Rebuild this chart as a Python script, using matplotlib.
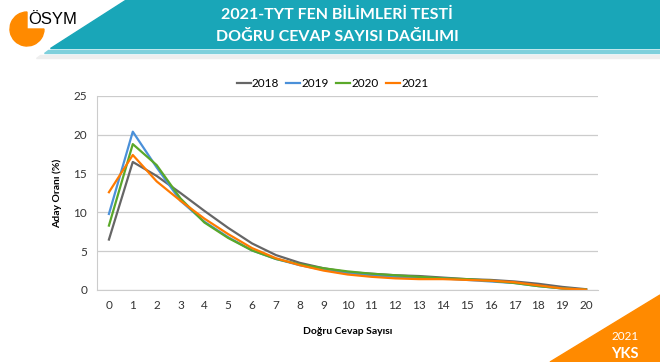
import numpy as np
import matplotlib
matplotlib.use("Agg")
import matplotlib.pyplot as plt
from matplotlib.patches import Polygon, Wedge

plt.rcParams['font.family'] = ['Lato', 'DejaVu Sans']

# data
correct = list(range(21))
y2018 = [6.5, 16.5, 14.7, 12.5, 10.2, 8.0, 6.0, 4.5, 3.5, 2.8, 2.3, 2.1, 1.9, 1.8, 1.6, 1.4, 1.3, 1.1, 0.8, 0.4, 0.1]
y2019 = [9.8, 20.4, 15.8, 11.5, 8.8, 6.8, 5.1, 4.0, 3.2, 2.6, 2.2, 1.9, 1.7, 1.6, 1.5, 1.3, 1.1, 0.9, 0.5, 0.2, 0.05]
y2020 = [8.3, 18.8, 16.1, 11.8, 8.7, 6.7, 5.1, 4.0, 3.3, 2.8, 2.4, 2.1, 1.9, 1.7, 1.5, 1.4, 1.2, 0.9, 0.5, 0.2, 0.05]
y2021 = [12.6, 17.4, 14.0, 11.5, 9.2, 7.2, 5.4, 4.1, 3.2, 2.5, 2.0, 1.7, 1.5, 1.4, 1.4, 1.3, 1.2, 1.0, 0.6, 0.2, 0.05]
years = ['2018', '2019', '2020', '2021']
colors = ['#666666', '#4a90d9', '#5aa829', '#ff7a00']

fig = plt.figure(figsize=(6.6, 3.62), dpi=100)

# header band and decorations in figure pixel coords
deco = fig.add_axes([0, 0, 1, 1])
deco.set_xlim(0, 660)
deco.set_ylim(362, 0)
deco.axis('off')
deco.add_patch(Polygon([(125, 0), (660, 0), (660, 48), (50, 48)], closed=True,
                       color='#19a6b8', zorder=1))
deco.add_patch(Polygon([(48, 50), (660, 50), (660, 53), (44, 53)], closed=True,
                       color='#7fd0dc', zorder=1))
deco.add_patch(Polygon([(40, 55), (660, 55), (660, 58), (36, 58)], closed=True,
                       color='#eeeeee', zorder=1))
deco.text(337, 15, '2021-TYT FEN BİLİMLERİ TESTİ', color='white', fontsize=11.5,
          fontweight='bold', ha='center', va='center')
deco.text(337, 37, 'DOĞRU CEVAP SAYISI DAĞILIMI', color='white', fontsize=11.5,
          fontweight='bold', ha='center', va='center')
deco.add_patch(Wedge((27, 29), 17, 0, 270, color='#ff8a00', zorder=2))
deco.text(28, 20, 'ÖSYM', color='black', fontsize=12, ha='left', va='center',
          family=['Liberation Sans', 'DejaVu Sans'], zorder=3)
deco.add_patch(Polygon([(550, 362), (660, 295), (660, 362)], closed=True,
                       color='#ff8a00', zorder=1))
deco.text(625, 336, '2021', color='white', fontsize=8.5, ha='center', va='center')
deco.text(625, 354, 'YKS', color='white', fontsize=10.5, fontweight='bold',
          ha='center', va='center')

ax = fig.add_axes([97 / 660, 1 - 290 / 362, 501 / 660, 194 / 362])
for ys, lab, c in zip([y2018, y2019, y2020, y2021], years, colors):
    ax.plot(correct, ys, color=c, lw=1.6, label=lab)

ax.set_xlim(-0.5, 20.5)
ax.set_ylim(0, 25)
ax.set_yticks([0, 5, 10, 15, 20, 25])
ax.set_xticks(correct)
ax.grid(axis='y', color='#cccccc', lw=0.9)
ax.set_axisbelow(True)
for s in ['top', 'right']:
    ax.spines[s].set_visible(False)
ax.spines['left'].set_color('#cccccc')
ax.spines['bottom'].set_color('#cccccc')
ax.tick_params(length=0, labelsize=8.5, colors='#333333', pad=7)
ax.set_ylabel('Aday Oranı (%)', fontsize=7.5, fontweight='bold', labelpad=8)
ax.set_xlabel('Doğru Cevap Sayısı', fontsize=7.5, fontweight='bold', labelpad=12)
ax.legend(loc='lower center', bbox_to_anchor=(0.47, 1.0), ncol=4, frameon=False,
          fontsize=8.5, handlelength=1.2, handletextpad=0.1, columnspacing=0.6,
          borderaxespad=0.2)

fig.savefig('out.png', dpi=100)
